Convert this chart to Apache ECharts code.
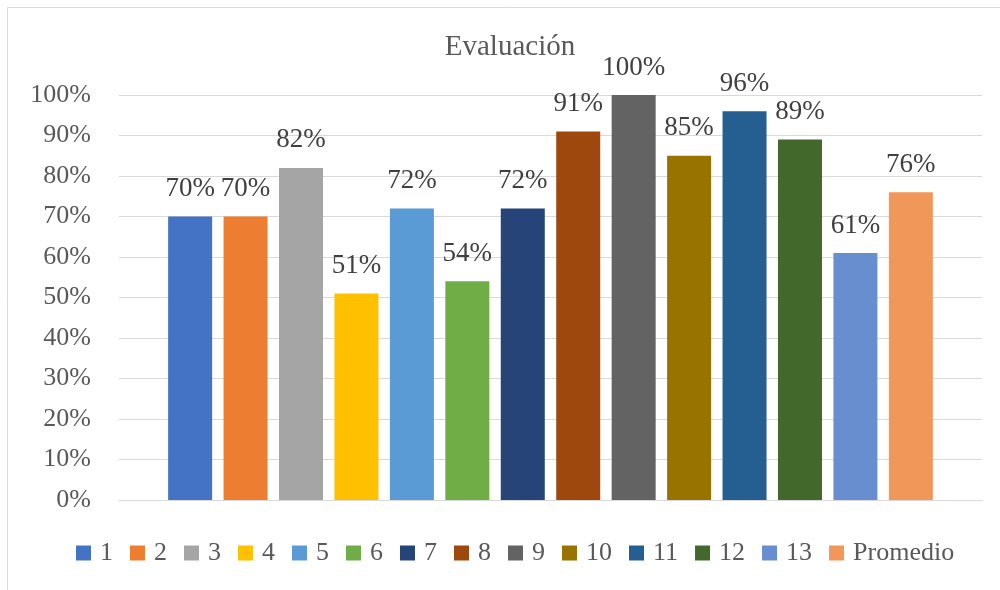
<!DOCTYPE html>
<html>
<head>
<meta charset="utf-8">
<script src="https://cdn.jsdelivr.net/npm/echarts@6/dist/echarts.min.js"></script>
<style>
  html, body { margin: 0; padding: 0; background: #fff; }
  #chart { width: 1000px; height: 590px; }
</style>
</head>
<body>
<div id="chart"></div>
<script>
const category = ['Evaluación']
const seriesNames = ['1', '2', '3', '4', '5', '6', '7', '8', '9', '10', '11', '12', '13', 'Promedio']
const seriesValues = [70, 70, 82, 51, 72, 54, 72, 91, 100, 85, 96, 89, 61, 76]
const seriesColors = ['#4472C4', '#ED7D31', '#A5A5A5', '#FFC000', '#5B9BD5', '#70AD47', '#264478',
  '#9E480E', '#636363', '#997300', '#255E91', '#43682B', '#698ED0', '#F1975A']

const font = "'Liberation Serif', 'Times New Roman', serif"
const chart = echarts.init(document.getElementById('chart'))

chart.setOption({
  animation: false,
  color: seriesColors,
  title: {
    text: 'Evaluación',
    left: 505,
    textAlign: 'center',
    top: 28,
    textStyle: { fontFamily: font, fontSize: 29, fontWeight: 'normal', color: '#595959' }
  },
  legend: {
    data: seriesNames,
    left: 76,
    top: 540,
    padding: 0,
    itemWidth: 15,
    itemHeight: 15,
    itemGap: 17,
    icon: 'rect',
    textStyle: { fontFamily: font, fontSize: 26, color: '#595959', padding: [0, 0, 0, 4] }
  },
  grid: { left: 119, right: 18, top: 95, bottom: 90 },
  xAxis: {
    type: 'category',
    data: category,
    axisLine: { show: true, lineStyle: { color: '#d9d9d9' } },
    axisTick: { show: false },
    axisLabel: { show: false }
  },
  yAxis: {
    type: 'value',
    min: 0,
    max: 100,
    interval: 10,
    axisLine: { show: false },
    axisTick: { show: false },
    axisLabel: { formatter: '{value}%', margin: 28, fontFamily: font, fontSize: 26, color: '#595959' },
    splitLine: { lineStyle: { color: '#d9d9d9', width: 1 } }
  },
  series: seriesNames.map((name, i) => ({
    name,
    type: 'bar',
    data: [seriesValues[i]],
    barWidth: 44,
    barGap: '26%',
    label: {
      show: true,
      position: 'top',
      distance: 14,
      formatter: '{c}%',
      fontFamily: font,
      fontSize: 27,
      color: '#404040'
    }
  })),
  graphic: [{
    type: 'rect',
    shape: { x: 7.5, y: 7.5, width: 1200, height: 800 },
    style: { fill: 'none', stroke: '#d9d9d9', lineWidth: 1 },
    silent: true
  }]
})
</script>
</body>
</html>
